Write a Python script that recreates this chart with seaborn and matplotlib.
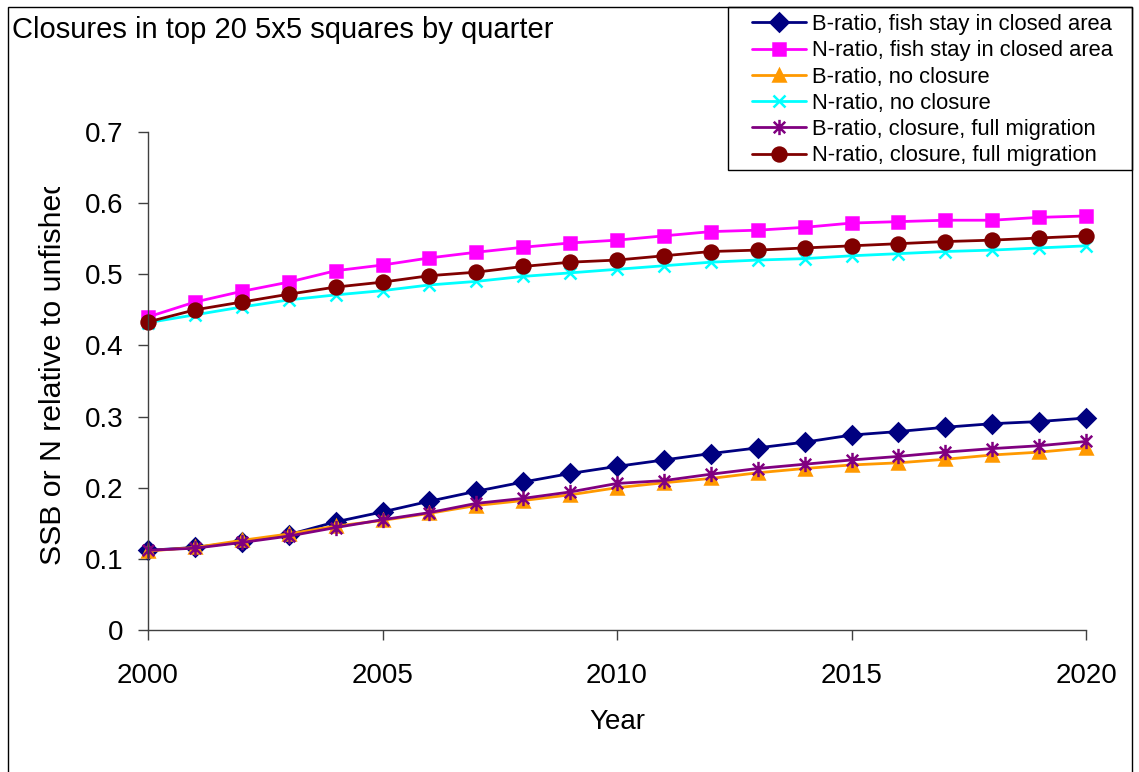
import pandas as pd
import matplotlib
matplotlib.use('Agg')
import matplotlib.pyplot as plt
import seaborn as sns
from matplotlib.path import Path
from matplotlib.patches import Rectangle
from matplotlib.transforms import Bbox, TransformedBbox

# Datos
years = [2000, 2001, 2002, 2003, 2004, 2005, 2006, 2007, 2008, 2009, 2010,
         2011, 2012, 2013, 2014, 2015, 2016, 2017, 2018, 2019, 2020]
b_stay = [0.112, 0.116, 0.124, 0.134, 0.152, 0.166, 0.181, 0.195, 0.208, 0.220, 0.230,
          0.239, 0.248, 0.256, 0.264, 0.274, 0.279, 0.285, 0.290, 0.293, 0.298]
n_stay = [0.440, 0.461, 0.476, 0.489, 0.505, 0.513, 0.523, 0.531, 0.538, 0.544, 0.548,
          0.554, 0.560, 0.562, 0.566, 0.572, 0.574, 0.576, 0.576, 0.580, 0.582]
b_none = [0.111, 0.116, 0.126, 0.135, 0.146, 0.154, 0.164, 0.175, 0.182, 0.190, 0.200,
          0.207, 0.213, 0.221, 0.227, 0.232, 0.235, 0.240, 0.246, 0.250, 0.256]
n_none = [0.432, 0.443, 0.454, 0.464, 0.471, 0.477, 0.485, 0.490, 0.497, 0.502, 0.507,
          0.512, 0.517, 0.520, 0.522, 0.526, 0.529, 0.532, 0.534, 0.537, 0.540]
b_mig = [0.112, 0.115, 0.123, 0.132, 0.144, 0.155, 0.165, 0.178, 0.185, 0.194, 0.206,
         0.210, 0.219, 0.227, 0.233, 0.239, 0.244, 0.250, 0.255, 0.259, 0.265]
n_mig = [0.433, 0.450, 0.461, 0.472, 0.482, 0.489, 0.498, 0.503, 0.511, 0.517, 0.520,
         0.526, 0.532, 0.534, 0.537, 0.540, 0.543, 0.546, 0.548, 0.551, 0.554]

labels = ['B-ratio, fish stay in closed area',
          'N-ratio, fish stay in closed area',
          'B-ratio, no closure',
          'N-ratio, no closure',
          'B-ratio, closure, full migration',
          'N-ratio, closure, full migration']
series = [b_stay, n_stay, b_none, n_none, b_mig, n_mig]
colors = ['#000080', '#FF00FF', '#FF9900', '#00FFFF', '#800080', '#800000']

# Asterisco estilo Excel
star = Path([(0, -1), (0, 1), (-0.75, -0.75), (0.75, 0.75), (-0.75, 0.75), (0.75, -0.75)],
            [Path.MOVETO, Path.LINETO, Path.MOVETO, Path.LINETO, Path.MOVETO, Path.LINETO])
markers = ['D', 's', '^', 'x', star, 'o']
msizes = [9, 8.5, 9, 9, 11, 10]

sns.set_style("white")
plt.rcParams['font.family'] = ['Liberation Sans', 'DejaVu Sans']
plt.rcParams['text.color'] = 'black'
plt.rcParams['axes.labelcolor'] = 'black'

W, H = 1139, 772
fig = plt.figure(figsize=(W / 100, H / 100), dpi=100)
ax = fig.add_axes([148 / W, 1 - 630 / H, (1086 - 148) / W, (630 - 132) / H])

for lab, vals, col, mk, ms in zip(labels, series, colors, markers, msizes):
    sns.lineplot(x=years, y=vals, ax=ax, color=col, marker=mk, markersize=ms,
                 markeredgecolor=col, markerfacecolor=col, markeredgewidth=1.8,
                 linewidth=2, label=lab, clip_on=False)

ax.set_xlim(2000, 2020)
ax.set_ylim(0, 0.7)
ax.set_xticks([2000, 2005, 2010, 2015, 2020])
ax.set_yticks([0, 0.1, 0.2, 0.3, 0.4, 0.5, 0.6, 0.7])
ax.set_yticklabels(['0', '0.1', '0.2', '0.3', '0.4', '0.5', '0.6', '0.7'])
ax.tick_params(axis='both', direction='out', length=7, width=1, color='#404040',
               labelsize=20, labelcolor='black', bottom=True, left=True)
ax.tick_params(axis='x', pad=17)
ax.tick_params(axis='y', pad=11)
sns.despine(ax=ax)
for s in ['left', 'bottom']:
    ax.spines[s].set_color('#404040')
    ax.spines[s].set_linewidth(1)
ax.set_xlabel('Year', fontsize=20, labelpad=14, color='black')
ax.set_ylabel('')

# Etiqueta del eje y, cortada arriba como en el original
yl = fig.text(53 / W, 1 - 565 / H, 'SSB or N relative to unfished', rotation=90,
              ha='center', va='bottom', fontsize=21.8, color='black')
yl.set_clip_box(TransformedBbox(Bbox([[0, 0], [1, 1 - 187 / H]]), fig.transFigure))
yl.set_clip_on(True)

fig.text(12 / W, 1 - 30 / H, 'Closures in top 20 5x5 squares by quarter',
         ha='left', va='center', fontsize=21, color='black')

# Leyenda
leg = ax.legend(loc='upper left', bbox_to_anchor=(752 / W, 1 - 14 / H),
                bbox_transform=fig.transFigure, frameon=False, fontsize=15.8,
                borderpad=0, borderaxespad=0, handlelength=2.45, handletextpad=0.3,
                labelspacing=0.24)
for t in leg.get_texts():
    t.set_color('black')

# Marcos
fig.patches.append(Rectangle((728 / W, 1 - 170 / H), (1132 - 728) / W, (170 - 7) / H,
                             transform=fig.transFigure, fill=False, ec='black', lw=1))
fig.patches.append(Rectangle((8 / W, -0.1), (1132 - 8) / W, 1.1 - 7 / H,
                             transform=fig.transFigure, fill=False, ec='black', lw=1))

plt.savefig('out.png', dpi=100)
